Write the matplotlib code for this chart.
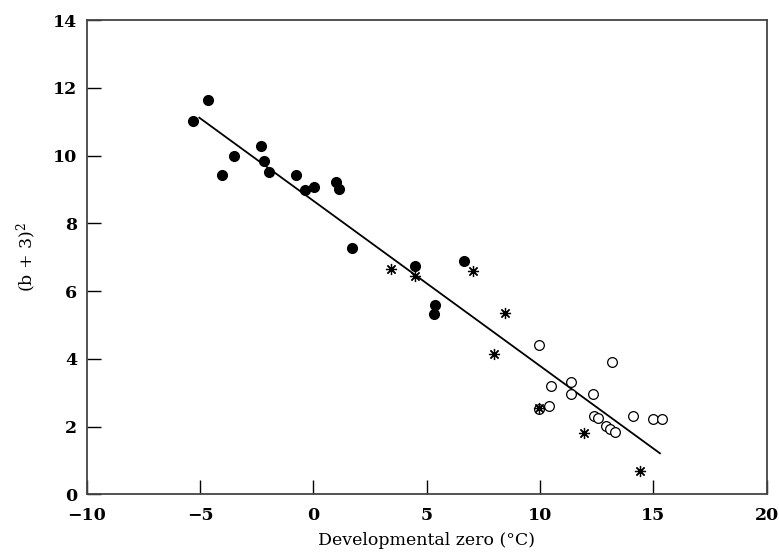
import numpy as np
import matplotlib.pyplot as plt

# filled circles
filled_x = [-5.32, -4.64, -3.51, -4.01, -2.29, -2.19, -1.95, -0.78, -0.35, 0.02,
            1.00, 1.12, 1.71, 4.49, 6.65, 5.38, 5.31]
filled_y = [11.03, 11.64, 9.99, 9.42, 10.28, 9.84, 9.53, 9.42, 9.00, 9.06,
            9.22, 9.01, 7.28, 6.74, 6.90, 5.60, 5.31]

# open circles
open_x = [9.97, 13.18, 10.50, 11.35, 11.37, 12.32, 10.38, 9.97, 12.37, 12.56,
          12.93, 13.10, 13.31, 14.12, 14.97, 15.38]
open_y = [4.40, 3.90, 3.19, 3.32, 2.96, 2.96, 2.62, 2.52, 2.31, 2.26,
          2.02, 1.93, 1.84, 2.30, 2.23, 2.21]

# asterisks
star_x = [3.43, 4.50, 7.03, 8.47, 7.98, 9.97, 11.94, 14.41]
star_y = [6.64, 6.45, 6.58, 5.35, 4.13, 2.56, 1.82, 0.68]

# regression line end points
line_x = [-5.03, 15.29]
line_y = [11.12, 1.21]

plt.rcParams['font.family'] = 'DejaVu Serif'
plt.rcParams['mathtext.fontset'] = 'dejavuserif'
fig = plt.figure(figsize=(7.79, 5.55), dpi=100)
ax = fig.add_axes([0.1113, 0.1094, 0.8729, 0.8542])

ax.plot(line_x, line_y, color='black', linewidth=1.3)
ax.plot(filled_x, filled_y, 'o', color='black', markersize=7, linestyle='none')
ax.plot(open_x, open_y, 'o', markerfacecolor='white', markeredgecolor='black',
        markeredgewidth=0.9, markersize=7, linestyle='none')
ax.plot(star_x, star_y, marker=(8, 2, 0), color='black', markersize=8,
        markeredgewidth=0.9, linestyle='none')

ax.set_xlim(-10, 20)
ax.set_ylim(0, 14)
ax.set_xticks(np.arange(-10, 21, 5))
ax.set_yticks(np.arange(0, 15, 2))
ax.set_xticklabels(['\u221210', '\u22125', '0', '5', '10', '15', '20'])

ax.tick_params(direction='in', length=10, width=1.0, labelsize=12.5)
ax.tick_params(axis='x', pad=9)
ax.tick_params(axis='y', pad=7)
for lab in ax.get_xticklabels() + ax.get_yticklabels():
    lab.set_fontweight('bold')
for sp in ax.spines.values():
    sp.set_linewidth(1.3)
    sp.set_color('#444444')

ax.set_xlabel('Developmental zero (\u00b0C)', fontsize=12.5, labelpad=6)
ax.set_ylabel('(b + 3)$^2$', fontsize=12.5, labelpad=10)

fig.savefig('out.png', dpi=100)
